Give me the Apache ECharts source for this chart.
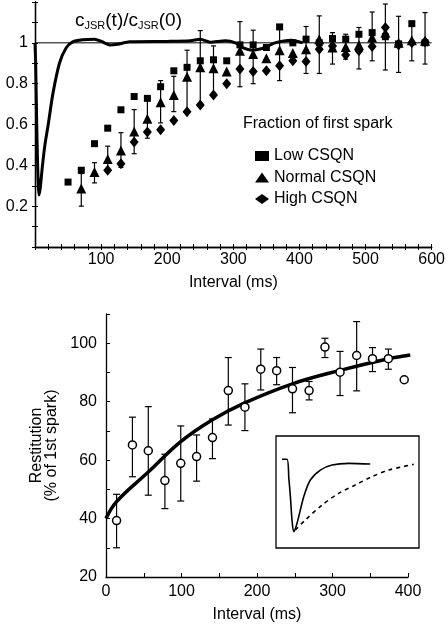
<!DOCTYPE html>
<html><head><meta charset="utf-8">
<script src="https://cdn.jsdelivr.net/npm/echarts@6/dist/echarts.min.js"></script>
<style>html,body{margin:0;padding:0;background:#fff}#c{width:448px;height:627px}</style>
</head><body><div id="c"></div>
<script>
// ---------- Top panel data (interval ms, fraction of first spark) ----------
const lowCSQN = [[50,0.318],[70,0.376],[90,0.506],[110,0.582],[130,0.672],[150,0.737],[170,0.728],[190,0.785],[210,0.863],[230,0.88],[250,0.912],[270,0.917],[290,0.912],[310,0.99],[330,0.99],[350,0.977],[370,1.078],[390,1.0],[410,1.018],[430,1.0],[450,1.021],[470,1.018],[490,1.042],[510,1.05],[530,1.03],[550,0.995],[570,1.094],[590,1.0]];
const normalCSQN = [[70,0.286],[90,0.367],[110,0.431],[130,0.473],[150,0.566],[170,0.628],[190,0.709],[210,0.745],[230,0.834],[250,0.88],[270,0.875],[290,0.859],[310,0.961],[330,0.945],[350,0.925],[370,0.964],[390,0.95],[410,0.969],[430,1.018],[450,0.977],[470,0.98],[490,0.99],[510,1.026],[530,1.05],[550,1.0],[570,1.013],[590,1.01]];
const highCSQN = [[110,0.376],[130,0.408],[150,0.514],[170,0.563],[190,0.574],[210,0.62],[230,0.663],[250,0.696],[270,0.745],[290,0.80],[310,0.872],[330,0.859],[350,0.863],[370,0.888],[390,0.912],[410,0.909],[430,0.969],[450,0.985],[470,0.94],[490,0.961],[510,0.982],[530,1.075],[550,0.99],[570,1.0],[590,1.005]];
// error bars [interval, low, high]
const topErrors = [[70,0.20,0.36],[90,0.314,0.413],[110,0.37,0.494],[130,0.39,0.56],[150,0.457,0.673],[170,0.533,0.72],[190,0.608,0.815],[210,0.663,0.836],[230,0.668,0.964],[250,0.70,1.06],[270,0.745,0.985],[310,0.785,1.104],[330,0.80,1.062],[370,0.815,1.078],[410,0.85,1.08],[430,0.85,1.132],[450,0.896,1.05],[470,0.92,1.042],[490,0.872,1.075],[510,0.912,1.151],[530,0.867,1.19],[550,0.855,1.13],[570,0.912,1.094],[590,0.896,1.148]];
// c_JSR(t)/c_JSR(0) trace
const cjsrCurve = [[0,1.0],[1,0.9],[2.5,0.62],[4,0.4],[6,0.255],[8,0.29],[11,0.39],[15,0.5],[20,0.6],[27,0.75],[37,0.9],[47,0.975],[57,1.005],[72,1.015],[90,1.018],[100,1.008],[113,0.99],[125,0.993],[143,1.005],[200,1.007],[235,1.01],[250,1.018],[265,1.003],[288,1.01],[303,1.0],[315,0.975],[328,0.964],[348,0.977],[363,1.0],[388,1.013],[405,1.0]];
const unityLine = [[0,1],[600,1]];
const topXTicks = [100,200,300,400,500,600];
const topYTicks = [0.2,0.4,0.6,0.8,1];

// ---------- Bottom panel data ----------
const restitution = [[14,39.3],[35,65.2],[56,63.2],[78,53],[99,58.9],[120,61.2],[141,67.7],[162,83.8],[184,78.1],[205,91.1],[226,90.6],[247,84.4],[269,83.8],[290,98.7],[310,90.1],[332,95.8],[353,94.7],[374,94.7],[395,87.5]];
const restErrors = [[14,30,48.3],[35,54.3,74.7],[56,48,78.3],[78,43.4,62],[99,46,71.7],[120,52.8,68.6],[141,60.5,74.1],[162,72,95.1],[184,70.1,86.1],[205,84,98],[226,85.8,95.1],[247,76.2,91.7],[269,80.6,86.9],[290,95.1,101.7],[310,82.1,97.2],[332,83.7,107.4],[353,90.3,98.5],[374,91.1,98]];
const restFit = [[0,40],[14,45.8],[56,55.9],[99,66.3],[141,73.8],[183,79.5],[247,86.1],[310,90.7],[374,94.7],[403,96]];
const bottomXTicks = [0,100,200,300,400];
const bottomYTicks = [20,40,60,80,100];

// ---------- Inset traces (arbitrary units) ----------
const insetSolid = [[4.2,79.2],[7.7,79.2],[9,62],[10,47],[11.2,25],[12.4,14.6],[14,19],[15.9,28],[19.4,45.8],[24,60.7],[31,69.6],[39.2,74.1],[50.8,75.6],[65.9,75]];
const insetDashed = [[13.5,16.1],[20.5,25],[32.2,38.4],[43.8,48.8],[55.5,56.3],[67.1,63.7],[78.8,69.6],[96.3,74.7]];

const FONT = 'Liberation Sans, Arial, Helvetica, sans-serif';
const BLACK = '#000';

function errRender(capW, lw) {
  return function (params, api) {
    const x = api.value(0), lo = api.value(1), hi = api.value(2);
    const a = api.coord([x, lo]), b = api.coord([x, hi]);
    const h = capW / 2;
    const st = {stroke: BLACK, lineWidth: lw};
    return {type: 'group', children: [
      {type: 'line', shape: {x1: a[0], y1: a[1], x2: b[0], y2: b[1]}, style: st},
      {type: 'line', shape: {x1: a[0]-h, y1: a[1], x2: a[0]+h, y2: a[1]}, style: st},
      {type: 'line', shape: {x1: b[0]-h, y1: b[1], x2: b[0]+h, y2: b[1]}, style: st}
    ]};
  };
}
const near = (arr, v) => arr.some(t => Math.abs(t - v) < 1e-6);

const axisLineStyle = {lineStyle: {color: BLACK, width: 1.3}};
const labelStyle = {color: BLACK, fontSize: 16, fontFamily: FONT};

const chart = echarts.init(document.getElementById('c'), null, {renderer: 'canvas'});
chart.setOption({
  animation: false,
  backgroundColor: '#fff',
  textStyle: {fontFamily: FONT},
  grid: [
    {left: 35, top: 2, width: 398, height: 245},
    {left: 106, top: 314, width: 302, height: 263},
    {left: 276, top: 436, width: 143, height: 112, show: true, borderColor: BLACK, borderWidth: 1.3, backgroundColor: 'rgba(0,0,0,0)'}
  ],
  xAxis: [
    {gridIndex: 0, type: 'value', position: 'bottom', min: 0, max: 600, interval: 20,
     axisLine: axisLineStyle, axisTick: {inside: true, length: 3, lineStyle: {color: BLACK}},
     splitLine: {show: false},
     axisLabel: Object.assign({margin: 5, formatter: v => near(topXTicks, v) ? String(v) : ''}, labelStyle),
     name: 'Interval (ms)', nameLocation: 'middle', nameGap: 28, nameTextStyle: labelStyle},
    {gridIndex: 0, type: 'value', position: 'top', min: 0, max: 600, interval: 20,
     axisLine: axisLineStyle, axisTick: {inside: true, length: 3, lineStyle: {color: BLACK}},
     splitLine: {show: false}, axisLabel: {show: false}},
    {gridIndex: 1, type: 'value', position: 'bottom', min: 0, max: 400, interval: 50,
     axisLine: axisLineStyle, axisTick: {inside: true, length: 4, lineStyle: {color: BLACK}},
     splitLine: {show: false},
     axisLabel: Object.assign({margin: 7, formatter: v => near(bottomXTicks, v) ? String(v) : ''}, labelStyle),
     name: 'Interval (ms)', nameLocation: 'middle', nameGap: 30, nameTextStyle: labelStyle},
    {gridIndex: 2, type: 'value', min: 0, max: 100, show: false}
  ],
  yAxis: [
    {gridIndex: 0, type: 'value', position: 'left', min: 0, max: 1.2, interval: 0.1,
     axisLine: axisLineStyle, axisTick: {inside: true, length: 3, lineStyle: {color: BLACK}},
     splitLine: {show: false},
     axisLabel: Object.assign({margin: 7, formatter: v => near(topYTicks, v) ? String(Math.round(v*10)/10) : ''}, labelStyle)},
    {gridIndex: 0, type: 'value', position: 'right', min: 0, max: 1.2, interval: 0.1,
     axisLine: axisLineStyle, axisTick: {inside: true, length: 3, lineStyle: {color: BLACK}},
     splitLine: {show: false}, axisLabel: {show: false}},
    {gridIndex: 1, type: 'value', position: 'left', min: 20, max: 110, interval: 10,
     axisLine: axisLineStyle, axisTick: {inside: true, length: 4, lineStyle: {color: BLACK}},
     splitLine: {show: false},
     axisLabel: Object.assign({margin: 9, formatter: v => near(bottomYTicks, v) ? String(v) : ''}, labelStyle),
     name: 'Restitution\n(% of 1st spark)', nameLocation: 'middle', nameGap: 44, nameRotate: 90,
     nameTextStyle: Object.assign({lineHeight: 15}, labelStyle)},
    {gridIndex: 2, type: 'value', min: 0, max: 100, show: false}
  ],
  legend: {
    data: ['Low CSQN', 'Normal CSQN', 'High CSQN'],
    orient: 'vertical', left: 250, top: 143, itemWidth: 14, itemHeight: 10, itemGap: 5.5,
    itemStyle: {opacity: 1},
    textStyle: {color: BLACK, fontSize: 16, fontFamily: FONT}
  },
  graphic: [
    {type: 'text', left: 75, top: 11, z: 100, style: {
      text: '{c|c}{s|JSR}{c|(t)/c}{s|JSR}{c|(0)}',
      rich: {
        c: {fontSize: 19, fontFamily: FONT, fill: BLACK, lineHeight: 22},
        s: {fontSize: 11, fontFamily: FONT, fill: BLACK, lineHeight: 11, verticalAlign: 'bottom'}
      }
    }},
    {type: 'text', left: 243, top: 116, z: 100, style: {
      text: 'Fraction of first spark', fontSize: 16, fontFamily: FONT, fill: BLACK
    }}
  ],
  series: [
    {type: 'line', xAxisIndex: 0, yAxisIndex: 0, data: unityLine, symbol: 'none',
     lineStyle: {color: BLACK, width: 1}, z: 2, silent: true},
    {type: 'line', xAxisIndex: 0, yAxisIndex: 0, data: cjsrCurve, symbol: 'none', smooth: 0.25,
     lineStyle: {color: BLACK, width: 3}, z: 3, silent: true},
    {type: 'custom', xAxisIndex: 0, yAxisIndex: 0, data: topErrors, renderItem: errRender(5, 1.2),
     encode: {x: 0, y: [1, 2]}, z: 4, silent: true},
    {name: 'Low CSQN', type: 'scatter', xAxisIndex: 0, yAxisIndex: 0, data: lowCSQN, symbol: 'rect', symbolSize: 7,
     itemStyle: {color: BLACK, opacity: 1}, z: 5},
    {name: 'Normal CSQN', type: 'scatter', xAxisIndex: 0, yAxisIndex: 0, data: normalCSQN, symbol: 'triangle', symbolSize: 10,
     itemStyle: {color: BLACK, opacity: 1}, z: 5},
    {name: 'High CSQN', type: 'scatter', xAxisIndex: 0, yAxisIndex: 0, data: highCSQN, symbol: 'diamond', symbolSize: [9, 11],
     itemStyle: {color: BLACK, opacity: 1}, z: 5},

    {type: 'custom', xAxisIndex: 2, yAxisIndex: 2, data: restErrors, renderItem: errRender(7, 1.2),
     encode: {x: 0, y: [1, 2]}, z: 3, silent: true},
    {type: 'line', xAxisIndex: 2, yAxisIndex: 2, data: restFit, symbol: 'none', smooth: 0.4,
     lineStyle: {color: BLACK, width: 3.5}, z: 4, silent: true},
    {type: 'scatter', xAxisIndex: 2, yAxisIndex: 2, data: restitution, symbol: 'circle', symbolSize: 8,
     itemStyle: {color: '#fff', borderColor: BLACK, borderWidth: 1.5, opacity: 1}, z: 5},

    {type: 'line', xAxisIndex: 3, yAxisIndex: 3, data: insetSolid, symbol: 'none', smooth: 0.3,
     lineStyle: {color: BLACK, width: 1.6}, z: 6, silent: true},
    {type: 'line', xAxisIndex: 3, yAxisIndex: 3, data: insetDashed, symbol: 'none', smooth: 0.3,
     lineStyle: {color: BLACK, width: 1.6, type: [4, 4]}, z: 6, silent: true}
  ]
});
</script></body></html>
